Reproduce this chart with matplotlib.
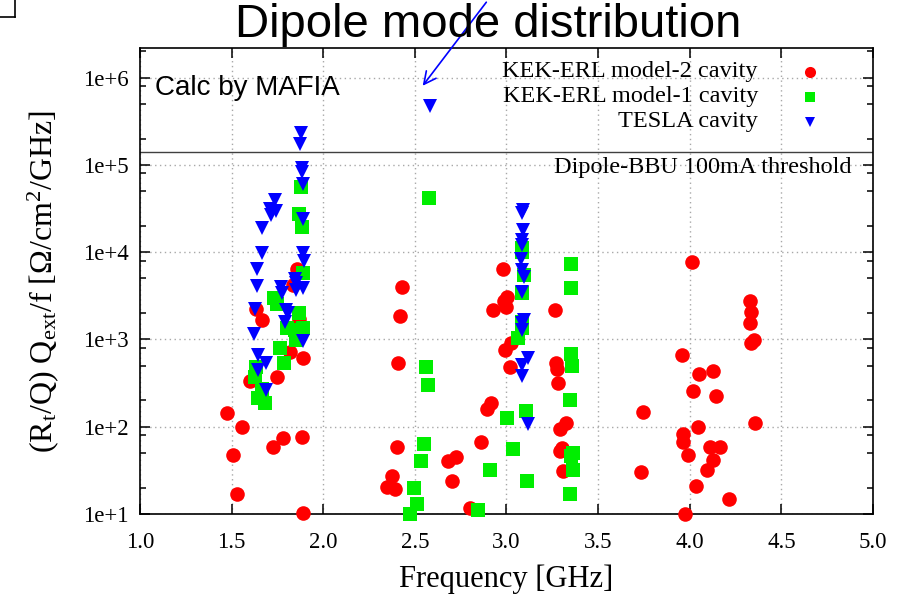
import matplotlib
matplotlib.use("Agg")
import matplotlib.pyplot as plt
from matplotlib.lines import Line2D
from matplotlib.ticker import FixedLocator, NullFormatter

plt.rcParams["font.family"] = ["Liberation Serif", "DejaVu Serif"]
plt.rcParams["mathtext.fontset"] = "custom"
plt.rcParams["mathtext.rm"] = "Liberation Serif"
plt.rcParams["mathtext.it"] = "Liberation Serif:italic"

# KEK-ERL model-2 cavity: frequency [GHz], (Rt/Q) Qext / f
model2_freq = [1.473, 1.506, 1.529, 1.558, 1.599, 1.631, 1.668, 1.724, 1.750, 1.782,
               1.817, 1.837, 1.856, 1.867, 1.882, 1.887, 1.890,
               2.346, 2.374, 2.392, 2.401, 2.410, 2.419, 2.428,
               2.682, 2.701, 2.724, 2.801, 2.859, 2.895, 2.915, 2.928, 2.983, 2.986,
               2.990, 2.995, 3.004, 3.019, 3.023,
               3.265, 3.272, 3.276, 3.279, 3.292, 3.292, 3.301, 3.310, 3.325,
               3.734, 3.745, 3.958, 3.965, 3.965, 3.974, 3.992, 4.014, 4.019, 4.032,
               4.047, 4.052, 4.096, 4.111, 4.125, 4.125, 4.142, 4.165, 4.213,
               4.329, 4.333, 4.329, 4.333, 4.351, 4.356]
model2_val = [142, 48, 17, 100, 335, 2250, 1680, 58, 374, 74,
              708, 4250, 6400, 1715, 77, 620, 10.2,
              20.2, 27.5, 19.3, 58, 532, 1870, 4020,
              40, 24, 45, 11.7, 67, 158, 185, 2170, 6400, 2720,
              757, 2330, 3080, 487, 916,
              2170, 530, 455, 314, 93, 52, 57, 31, 109,
              30, 149, 662, 82, 66, 10, 47, 7640, 256, 21,
              98, 402, 32, 58, 431, 42, 226, 58, 15,
              2770, 2080, 1550, 900, 985, 109]

# KEK-ERL model-1 cavity
model1_freq = [1.628, 1.631, 1.642, 1.668, 1.682, 1.733, 1.746, 1.764, 1.787, 1.801,
               1.846, 1.851, 1.868, 1.870, 1.879, 1.885, 1.891, 1.891,
               2.473, 2.497, 2.513, 2.532, 2.550, 2.561, 2.573, 2.579,
               2.846, 2.910, 3.001, 3.034, 3.061, 3.083, 3.083, 3.097, 3.083, 3.083,
               3.087, 3.105, 3.114,
               3.346, 3.352, 3.359, 3.352, 3.361, 3.361, 3.346, 3.352, 3.352]
model1_val = [368, 487, 211, 268, 185, 2960, 2520, 791, 541, 1340,
              1280, 984, 27100, 1990, 56100, 19500, 5710, 1340,
              10, 19.7, 13, 40, 63, 479, 301, 41300,
              11.1, 32, 127, 55, 1030, 11000, 10100, 5470, 3370, 1600,
              1340, 151, 24,
              202, 681, 496, 46, 50, 32, 16.8, 7310, 3880]

# TESLA cavity
tesla_freq = [1.624, 1.628, 1.637, 1.637, 1.646, 1.646, 1.664, 1.664, 1.688, 1.688,
              1.709, 1.714, 1.737, 1.740, 1.768, 1.773, 1.791, 1.795, 1.809,
              1.846, 1.851, 1.851, 1.879, 1.874, 1.883, 1.886, 1.891, 1.891, 1.891,
              1.895, 1.891, 1.891,
              2.583,
              3.088, 3.086, 3.091, 3.086, 3.083, 3.079, 3.083, 3.097, 3.083, 3.097,
              3.086, 3.083, 3.116, 3.083, 3.083, 3.116]
tesla_val = [1150, 2230, 6400, 4090, 662, 446, 18700, 9840, 532, 263,
             30900, 26600, 39500, 29800, 4020, 3370, 1600, 2170, 1990,
             4920, 4390, 3680, 233000, 173000, 91200, 83400, 59800, 23800, 9680,
             7900, 3850, 960,
             472000,
             30300, 27800, 17900, 13800, 12100, 8340, 6240, 5220, 3520, 1670,
             1530, 1280, 617, 509, 381, 106]

bbu_threshold = 1.4e5

x_ticks = [1.0, 1.5, 2.0, 2.5, 3.0, 3.5, 4.0, 4.5, 5.0]
y_ticks = [1e1, 1e2, 1e3, 1e4, 1e5, 1e6]
y_ticklabels = ["1e+1", "1e+2", "1e+3", "1e+4", "1e+5", "1e+6"]

W, H = 902, 596
fig = plt.figure(figsize=(W / 100, H / 100), dpi=100)
ax = fig.add_axes([140 / W, 1 - 514 / H, 733 / W, 466 / H])

ax.set_yscale("log")
ax.set_xlim(1.0, 5.0)
ax.set_ylim(10, 10 ** 6.338)

ax.set_xticks(x_ticks)
ax.set_xticklabels([f"{v:.1f}" for v in x_ticks])
ax.set_yticks(y_ticks)
ax.set_yticklabels(y_ticklabels)
minor = [m * 10 ** e for e in range(1, 7) for m in (2, 5, 8)]
ax.yaxis.set_minor_locator(FixedLocator(minor))
ax.yaxis.set_minor_formatter(NullFormatter())
ax.xaxis.set_minor_locator(FixedLocator([]))

ax.tick_params(which="both", direction="in", top=True, right=True,
               labelsize=16.5, width=1.1, colors="black")
ax.tick_params(which="major", length=7)
ax.tick_params(axis="y", which="major", pad=8)
ax.tick_params(axis="x", which="major", pad=13)
ax.tick_params(which="minor", length=4)
for s in ax.spines.values():
    s.set_linewidth(1.2)

ax.grid(True, which="major", color="#a8a8a8", linestyle=(0, (1, 2.5)), linewidth=1.0)
ax.set_axisbelow(True)

ms = 10.5
ax.plot(model2_freq, model2_val, linestyle="none", marker="o", ms=ms,
        color="#ff0000", markeredgewidth=0, zorder=3, clip_on=False)
ax.plot(model1_freq, model1_val, linestyle="none", marker="s", ms=ms - 1,
        color="#00ee00", markeredgewidth=0, zorder=4, clip_on=False)
ax.plot(tesla_freq, tesla_val, linestyle="none", marker="v", ms=ms - 0.5,
        color="#0000ff", markeredgewidth=0, zorder=5, clip_on=False)

ax.axhline(bbu_threshold, color="#404040", linewidth=1.0, zorder=2)
ax.text(0.971, 0.7446, "Dipole-BBU 100mA threshold", transform=ax.transAxes,
        ha="right", va="center", fontsize=17.5)

# key
key_rows = [("KEK-ERL model-2 cavity", "o", "#ff0000", 8),
            ("KEK-ERL model-1 cavity", "s", "#00ee00", 7.5),
            ("TESLA cavity", "v", "#0000ff", 7.5)]
for i, (label, mk, col, size) in enumerate(key_rows):
    yy = 0.9485 - i * 0.0536
    ax.text(0.843, yy, label, transform=ax.transAxes, ha="right", va="center",
            fontsize=17.5)
    ax.add_line(Line2D([0.914], [yy], transform=ax.transAxes, marker=mk, ms=size,
                       color=col, markeredgewidth=0, linestyle="none"))

ax.text(0.0205, 0.914, "Calc by MAFIA", transform=ax.transAxes, ha="left",
        va="center", fontsize=20, family=["Liberation Sans", "DejaVu Sans"])

ax.set_xlabel("Frequency [GHz]", fontsize=22, labelpad=8)
ax.set_ylabel(r"(R$_{\rm t}$/Q) Q$_{\rm ext}$/f [Ω/cm$^{2}$/GHz]", fontsize=23, labelpad=16)

fig.text(488 / W, 1 - 25 / H, "Dipole mode distribution", ha="center", va="center",
         fontsize=34, family=["Liberation Sans", "DejaVu Sans"])

# pointer to the TESLA outlier
ax.annotate("", xy=(421 / W, 1 - 88 / H), xytext=(488 / W, 1.0),
            xycoords="figure fraction", textcoords="figure fraction",
            arrowprops=dict(arrowstyle="->", color="#0000ff", lw=1.2,
                            mutation_scale=22), annotation_clip=False)

# corner mark
fig.add_artist(Line2D([0, 15 / W], [1 - 17 / H, 1 - 17 / H], color="black", lw=1.2))
fig.add_artist(Line2D([15 / W, 15 / W], [1, 1 - 17 / H], color="black", lw=1.2))

fig.savefig("out.png", dpi=100)
